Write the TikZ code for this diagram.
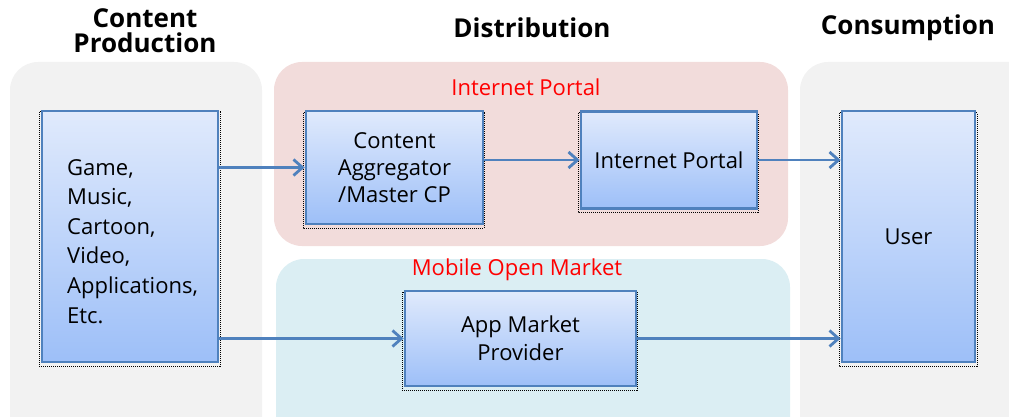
\documentclass[tikz,border=0pt]{standalone}
\usepackage{fontspec}
\setmainfont{Open Sans}
\usetikzlibrary{arrows.meta,calc}
\definecolor{panelgray}{HTML}{F2F2F2}
\definecolor{panelpink}{HTML}{F2DCDB}
\definecolor{panelblue}{HTML}{DBEEF3}
\definecolor{boxborder}{HTML}{4F81BD}
\definecolor{boxtop}{HTML}{E0EAFC}
\definecolor{boxbottom}{HTML}{9DBFF8}
\tikzset{
  panel/.style={rounded corners=28pt},
  boxnode/.style={draw=boxborder, line width=2.8pt, top color=boxtop, bottom color=boxbottom,
    inner sep=0pt, font=\fontsize{22}{28}\selectfont, align=center},
  shadowline/.style={densely dotted, line width=1pt, black},
  arr/.style={draw=boxborder, line width=2.8pt, -{Straight Barb[length=9pt,width=16pt,line width=2.8pt]}},
  titletext/.style={font=\fontsize{26}{25}\selectfont\bfseries, align=center},
  redlabel/.style={text=red, font=\fontsize{22}{24}\selectfont}
}
\begin{document}
\begin{tikzpicture}[x=1pt,y=-1pt]
\useasboundingbox (0,0) rectangle (1009,417);
% panels
\fill[panelgray, panel] (10,62) rectangle (262,445);
\fill[panelpink, panel] (274,62) rectangle (788,246);
\fill[panelblue, panel] (276,259) rectangle (790,445);
\fill[panelgray, panel] (800,62) rectangle (1040,445);
% titles
\node[titletext] (t1) at (145,31) {Content\\Production};
\node[titletext] (t2) at (532,28) {Distribution};
\node[titletext] (t3) at (908,28) {Consumption};
\node[redlabel] (l1) at (526,87) {Internet Portal};
\node[redlabel] (l2) at (517,270) {Mobile Open Market};
% shadows
\draw[shadowline] (39,112) rectangle (220,366);
\draw[shadowline] (303,113) rectangle (484,228);
\draw[shadowline] (578,113) rectangle (758,212);
\draw[shadowline] (402,292) rectangle (637,390);
\draw[shadowline] (839,113) rectangle (977,366);
% boxes
\node[boxnode, minimum width=176pt, minimum height=251pt] (content) at (130,236.5) {};
\node[font=\fontsize{22}{29.6}\selectfont, align=left, anchor=north west, inner sep=0pt] (contenttext) at (67,159) {Game,\\Music,\\Cartoon,\\Video,\\Applications,\\Etc.};
\node[boxnode, minimum width=177pt, minimum height=113pt] (agg) at (394.5,167.5) {Content\\[-1pt]Aggregator\\[-1pt]/Master CP};
\node[boxnode, minimum width=176pt, minimum height=97pt] (portal) at (669,160) {Internet Portal};
\node[boxnode, minimum width=231pt, minimum height=95pt] (app) at (520.5,338.5) {App Market\\Provider};
\node[boxnode, minimum width=133pt, minimum height=251pt] (user) at (908.5,236.5) {User};
% arrows
\draw[arr] (content.east |- agg.west) -- (agg.west);
\draw[arr] (content.east |- app.west) -- (app.west);
\draw[arr] (agg.east |- portal.west) -- (portal.west);
\draw[arr] (portal.east) -- (user.west |- portal.east);
\draw[arr] (app.east) -- (user.west |- app.east);
\end{tikzpicture}
\end{document}
